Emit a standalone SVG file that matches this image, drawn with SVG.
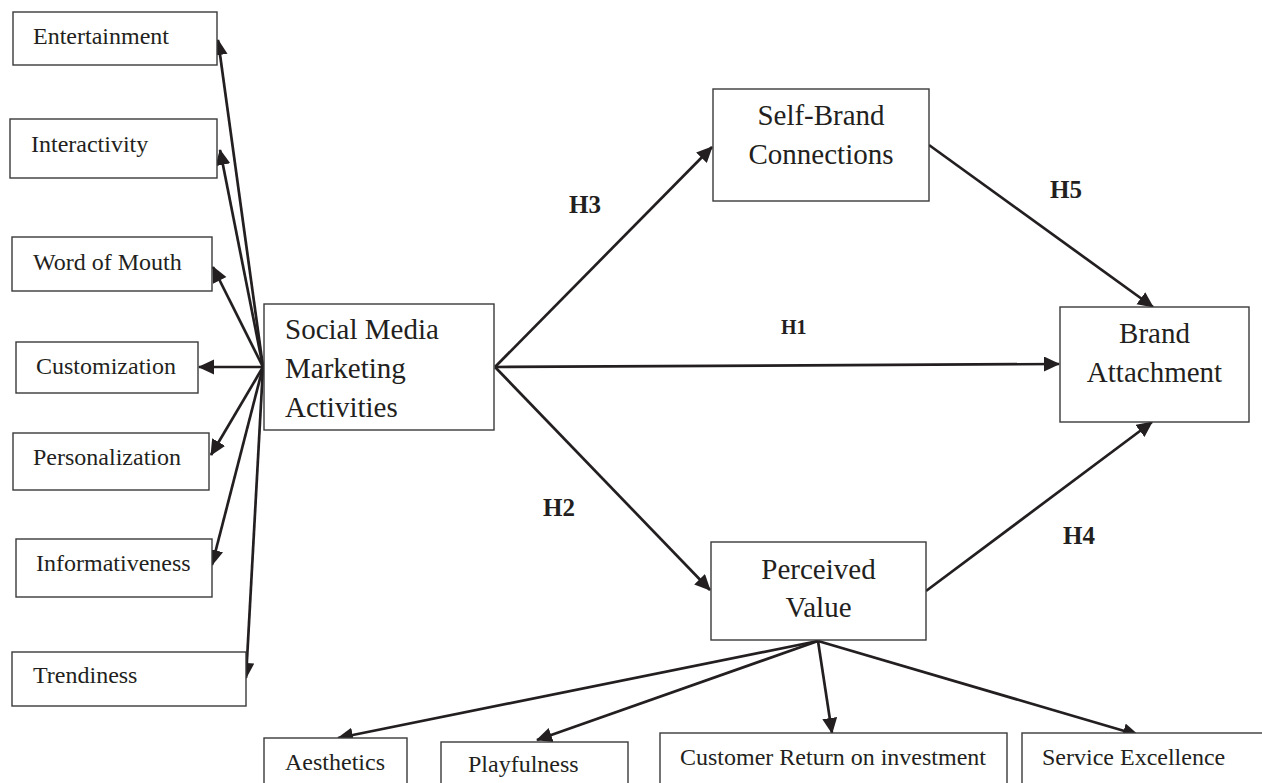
<svg xmlns="http://www.w3.org/2000/svg" width="1262" height="783" viewBox="0 0 1262 783">
<style>
.box{fill:#fff;stroke:#3a3a3a;stroke-width:1.4}
.t{font-family:"Liberation Serif","Times New Roman",serif;fill:#231f20}
.s{font-size:24px}
.m{font-size:29px;text-anchor:middle}
.h{font-weight:bold;font-size:25px}
.c{stroke:#231f20;stroke-width:2.7;fill:none;marker-end:url(#ah)}
</style>
<defs>
<marker id="ah" markerUnits="userSpaceOnUse" markerWidth="16" markerHeight="16" refX="15" refY="7.5" orient="auto">
<path d="M0,0 L16,7.5 L0,15 z" fill="#231f20"/>
</marker>
</defs>
<rect width="1262" height="783" fill="#fff"/>
<g id="connectors">
<line class="c" x1="263" y1="367" x2="218" y2="40"/>
<line class="c" x1="263" y1="367" x2="220" y2="150"/>
<line class="c" x1="263" y1="367" x2="213" y2="267"/>
<line class="c" x1="263" y1="367" x2="199" y2="367"/>
<line class="c" x1="263" y1="367" x2="211" y2="455"/>
<line class="c" x1="263" y1="367" x2="212" y2="565"/>
<line class="c" x1="263" y1="367" x2="246" y2="678"/>
<line class="c" x1="495" y1="367" x2="712" y2="147"/>
<line class="c" x1="495" y1="367" x2="1059" y2="364"/>
<line class="c" x1="495" y1="367" x2="710" y2="590"/>
<line class="c" x1="929" y1="145" x2="1153" y2="307"/>
<line class="c" x1="926" y1="591" x2="1152" y2="422"/>
<line class="c" x1="818" y1="641" x2="338" y2="738"/>
<line class="c" x1="818" y1="641" x2="537" y2="740"/>
<line class="c" x1="818" y1="641" x2="832" y2="733"/>
<line class="c" x1="818" y1="641" x2="1138" y2="735"/>
</g>
<g id="labels">
<text class="t h" x="569" y="213">H3</text>
<text class="t h" x="781" y="334" style="font-size:20px">H1</text>
<text class="t h" x="1050" y="198">H5</text>
<text class="t h" x="543" y="516">H2</text>
<text class="t h" x="1063" y="544">H4</text>
</g>
<g id="entertainment"><rect class="box" x="13" y="12" width="204" height="53"/><text class="t s" x="33" y="44">Entertainment</text></g>
<g id="interactivity"><rect class="box" x="10" y="119" width="207" height="59"/><text class="t s" x="31" y="152">Interactivity</text></g>
<g id="word-of-mouth"><rect class="box" x="12" y="237" width="200" height="54"/><text class="t s" x="33" y="270">Word of Mouth</text></g>
<g id="customization"><rect class="box" x="16" y="342" width="182" height="51"/><text class="t s" x="36" y="374">Customization</text></g>
<g id="personalization"><rect class="box" x="13" y="433" width="196" height="57"/><text class="t s" x="33" y="465">Personalization</text></g>
<g id="informativeness"><rect class="box" x="16" y="539" width="196" height="58"/><text class="t s" x="36" y="571">Informativeness</text></g>
<g id="trendiness"><rect class="box" x="12" y="652" width="234" height="54"/><text class="t s" x="33" y="683">Trendiness</text></g>
<g id="smma"><rect class="box" x="264" y="304" width="230" height="126"/>
<text class="t" style="font-size:29px" x="285" y="339">Social Media</text>
<text class="t" style="font-size:29px" x="285" y="378">Marketing</text>
<text class="t" style="font-size:29px" x="285" y="417">Activities</text></g>
<g id="self-brand"><rect class="box" x="713" y="89" width="216" height="112"/>
<text class="t m" x="821" y="125">Self-Brand</text>
<text class="t m" x="821" y="164">Connections</text></g>
<g id="brand-attachment"><rect class="box" x="1060" y="307" width="189" height="115"/>
<text class="t m" x="1154.5" y="343">Brand</text>
<text class="t m" x="1154.5" y="382">Attachment</text></g>
<g id="perceived-value"><rect class="box" x="711" y="542" width="215" height="98"/>
<text class="t m" x="818.5" y="579">Perceived</text>
<text class="t m" x="818.5" y="617">Value</text></g>
<g id="aesthetics"><rect class="box" x="264" y="738" width="143" height="60"/><text class="t s" x="285" y="770">Aesthetics</text></g>
<g id="playfulness"><rect class="box" x="441" y="742" width="187" height="60"/><text class="t s" x="468" y="772">Playfulness</text></g>
<g id="customer-roi"><rect class="box" x="660" y="733" width="347" height="60"/><text class="t s" x="680" y="765">Customer Return on investment</text></g>
<g id="service-excellence"><rect class="box" x="1022" y="733" width="260" height="60"/><text class="t s" x="1042" y="765">Service Excellence</text></g>
</svg>
